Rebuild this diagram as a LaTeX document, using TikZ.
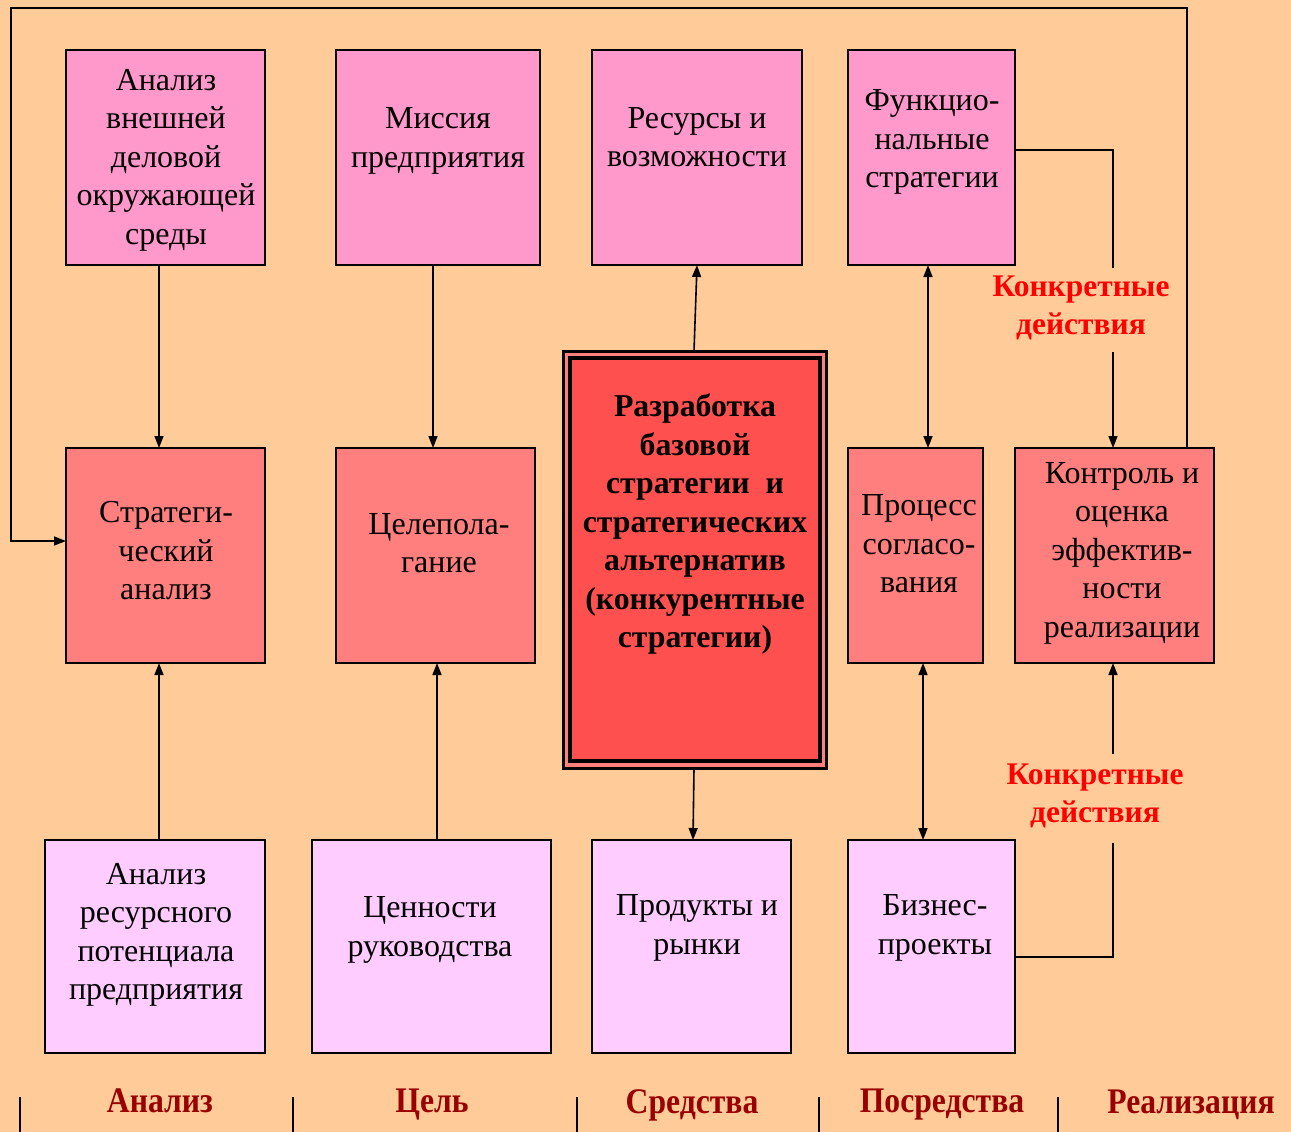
\documentclass[tikz,border=0pt]{standalone}
\usepackage{fontspec}
\setmainfont{Liberation Serif}
\newfontfamily\condfont[FakeStretch=0.88]{Liberation Serif}
\usetikzlibrary{arrows.meta,calc}
\definecolor{bg}{RGB}{255,204,153}
\definecolor{toppink}{RGB}{255,153,204}
\definecolor{midred}{RGB}{255,127,127}
\definecolor{corered}{RGB}{255,80,80}
\definecolor{lowpink}{RGB}{255,204,255}
\definecolor{actred}{RGB}{255,0,0}
\definecolor{colred}{RGB}{153,0,0}
\newcommand\mkbox[6]{\node[box,fill=#6,minimum width={(#4-#2)*1pt},minimum height={(#5-#3)*1pt}] (#1) at ({(#2+#4)/2},{(#3+#5)/2}) {};}
\begin{document}
\begin{tikzpicture}[x=1pt,y=-1pt,
  box/.style={draw=black,line width=1.8pt,inner sep=0pt,outer sep=0pt},
  txt/.style={align=center,font=\fontsize{32}{38.5}\selectfont,inner sep=0pt},
  ctxt/.style={align=center,font=\fontsize{31.8}{38.5}\selectfont\bfseries,inner sep=0pt},
  act/.style={align=center,font=\fontsize{31.5}{38}\selectfont\bfseries,text=actred,inner sep=0pt},
  col/.style={font=\condfont\fontsize{36}{40}\selectfont\bfseries,text=colred,inner sep=0pt},
  ln/.style={line width=1.6pt},
  arr/.style={line width=1.6pt,-{Triangle[length=12pt,width=9pt]}},
  darr/.style={line width=1.6pt,{Triangle[length=12pt,width=9pt]}-{Triangle[length=12pt,width=9pt]}}]
\fill[bg] (0,0) rectangle (1291,1132);
\useasboundingbox (0,0) rectangle (1291,1132);
% top row
\mkbox{a1}{66}{50}{265}{265}{toppink}
\mkbox{a2}{336}{50}{540}{265}{toppink}
\mkbox{a3}{592}{50}{802}{265}{toppink}
\mkbox{a4}{848}{50}{1015}{265}{toppink}
% middle row
\mkbox{b1}{66}{448}{265}{663}{midred}
\mkbox{b2}{336}{448}{535}{663}{midred}
\mkbox{b4}{848}{448}{983}{663}{midred}
\mkbox{b5}{1015}{448}{1214}{663}{midred}
% central
\node[draw=black,line width=3pt,fill=midred,minimum width=263pt,minimum height=417.5pt,inner sep=0pt,outer sep=0pt] (cOut) at (695,559.75) {};
\node[draw=black,line width=3.5pt,fill=corered,minimum width=250pt,minimum height=403pt,inner sep=0pt,outer sep=0pt] (cIn) at (695,559.5) {};
% bottom row
\mkbox{d1}{45}{840}{265}{1053}{lowpink}
\mkbox{d2}{312}{840}{551}{1053}{lowpink}
\mkbox{d3}{592}{840}{791}{1053}{lowpink}
\mkbox{d4}{848}{840}{1015}{1053}{lowpink}
% texts
\node[txt] (a1t) at (166,160) {Анализ\\внешней\\деловой\\окружающей\\среды};
\node[txt] (a2t) at (438,141) {Миссия\\предприятия};
\node[txt] (a3t) at (697,137) {Ресурсы и\\возможности};
\node[txt] (a4t) at (932,142) {Функцио-\\нальные\\стратегии};
\node[txt] (b1t) at (166,551) {Стратеги-\\ческий\\анализ};
\node[txt] (b2t) at (439,543) {Целепола-\\гание};
\node[ctxt] (ct) at (695,524) {Разработка\\базовой\\стратегии\ \ и\\стратегических\\альтернатив\\(конкурентные\\стратегии)};
\node[txt] (b4t) at (919,544) {Процесс\\согласо-\\вания};
\node[txt] (b5t) at (1122,553) {Контроль и\\оценка\\эффектив-\\ности\\реализации};
\node[txt] (d1t) at (156,935) {Анализ\\ресурсного\\потенциала\\предприятия};
\node[txt] (d2t) at (430,930) {Ценности\\руководства};
\node[txt] (d3t) at (697,928) {Продукты и\\рынки};
\node[txt] (d4t) at (935,928) {Бизнес-\\проекты};
\node[act] (k1) at (1081,308) {Конкретные\\действия};
\node[act] (k2) at (1095,796) {Конкретные\\действия};
% column labels
\node[col] (l1) at (160,1101) {Анализ};
\node[col] (l2) at (432,1105) {Цель};
\node[col] (l3) at (692,1105) {Средства};
\node[col] (l4) at (942,1105) {Посредства};
\node[col] (l5) at (1191,1105) {Реализация};
\foreach \xx in {20,293,577,819,1058} \draw[ln] (\xx,1097) -- (\xx,1132);
% coordinates
\coordinate (fbA) at (1187,8);
\coordinate (fbB) at (11,8);
\coordinate (fbC) at (11,541);
\coordinate (u1) at (1113,150);
\coordinate (u2) at (1113,268);
\coordinate (u3) at (1113,352);
\coordinate (w1) at (1113,957);
\coordinate (w2) at (1113,843);
\coordinate (w3) at (1113,754);
% connectors
\draw[arr] (a1.south -| 159,0) -- (b1.north -| 159,0);
\draw[arr] (a2.south -| 433,0) -- (b2.north -| 433,0);
\draw[arr] (cOut.north -| 694,0) -- (a3.south -| 697,0);
\draw[darr] (a4.south -| 928,0) -- (b4.north -| 928,0);
\draw[arr] (d1.north -| 159,0) -- (b1.south -| 159,0);
\draw[arr] (d2.north -| 437,0) -- (b2.south -| 437,0);
\draw[arr] (cOut.south -| 694,0) -- (d3.north -| 693,0);
\draw[darr] (b4.south -| 923,0) -- (d4.north -| 923,0);
\draw[ln] (a4.east |- u1) -- (u1) -- (u2);
\draw[arr] (u3) -- (b5.north -| u3);
\draw[ln] (d4.east |- w1) -- (w1) -- (w2);
\draw[arr] (w3) -- (b5.south -| w3);
\draw[arr] (b5.north -| fbA) -- (fbA) -- (fbB) -- (fbC) -- (b1.west |- fbC);
\end{tikzpicture}
\end{document}
